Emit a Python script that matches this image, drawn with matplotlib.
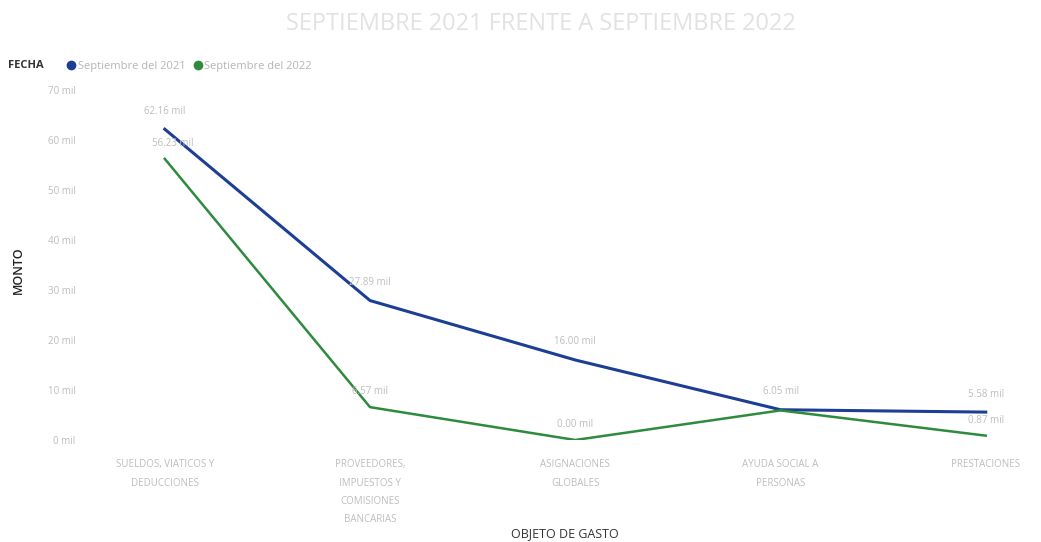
import matplotlib
matplotlib.use('Agg')
import matplotlib.pyplot as plt
from matplotlib.lines import Line2D

plt.rcParams['font.family'] = ['Open Sans', 'DejaVu Sans']

categorias = ['SUELDOS, VIATICOS Y\nDEDUCCIONES',
              'PROVEEDORES,\nIMPUESTOS Y\nCOMISIONES\nBANCARIAS',
              'ASIGNACIONES\nGLOBALES',
              'AYUDA SOCIAL A\nPERSONAS',
              'PRESTACIONES']
sep_2021 = [62.16, 27.89, 16.00, 6.05, 5.58]
sep_2022 = [56.23, 6.57, 0.00, 5.92, 0.87]
etiquetas_2021 = ['62.16 mil', '27.89 mil', '16.00 mil', '6.05 mil', '5.58 mil']
etiquetas_2022 = ['56.23 mil', '6.57 mil', '0.00 mil', None, '0.87 mil']
yticks = [0, 10, 20, 30, 40, 50, 60, 70]

azul = '#1c3f94'
verde = '#2e8b3e'
gris = '#bdbdbd'

fig = plt.figure(figsize=(10.41, 5.42), dpi=100)
ax = fig.add_axes([95/1041, 102/542, 940/1041, 350/542])

x = list(range(len(categorias)))
ax.plot(x, sep_2021, color=azul, lw=2.2, solid_joinstyle='round')
ax.plot(x, sep_2022, color=verde, lw=1.8, solid_joinstyle='round')

for xi, v, t in zip(x, sep_2021, etiquetas_2021):
    if t:
        ax.annotate(t, (xi, v), xytext=(0, 9), textcoords='offset points',
                    ha='center', va='bottom', fontsize=7, color=gris)
for xi, v, t in zip(x, sep_2022, etiquetas_2022):
    if t:
        dx = 6 if xi == 0 else 0
        ax.annotate(t, (xi, v), xytext=(dx, 7), textcoords='offset points',
                    ha='center', va='bottom', fontsize=7, color=gris)

ax.set_xlim(-0.34, 4.24)
ax.set_ylim(0, 70)
ax.set_yticks(yticks)
ax.set_yticklabels([f'{t} mil' for t in yticks], fontsize=7, color=gris)
ax.set_xticks(x)
ax.set_xticklabels(categorias, fontsize=7, color=gris, linespacing=1.9)
ax.tick_params(length=0, pad=14)
ax.tick_params(axis='x', pad=14)
for s in ax.spines.values():
    s.set_visible(False)

fig.text(565/1041, 1 - 534/542, 'OBJETO DE GASTO', ha='center', va='center',
         fontsize=9, color='#333333')
fig.text(18/1041, 1 - 270/542, 'MONTO', ha='center', va='center', rotation=90,
         fontsize=9, color='#222222', fontweight='semibold')

fig.text(0.52, 0.955, 'SEPTIEMBRE 2021 FRENTE A SEPTIEMBRE 2022', ha='center',
         va='center', fontsize=17, color='#e2e2e2')
fig.text(8/1041, 1 - 66/542, 'FECHA', ha='left', va='center', fontsize=8,
         fontweight='bold', color='#333333')
handles = [Line2D([], [], ls='', marker='o', ms=6, color=azul),
           Line2D([], [], ls='', marker='o', ms=6, color=verde)]
fig.legend(handles, ['Septiembre del 2021', 'Septiembre del 2022'], ncol=2,
           loc='center left', bbox_to_anchor=(60/1041, 1 - 66/542), frameon=False,
           fontsize=8, labelcolor='#b5b5b5', handletextpad=0.1,
           columnspacing=0.6, borderpad=0, handlelength=1)

fig.savefig('out.png', dpi=100)
